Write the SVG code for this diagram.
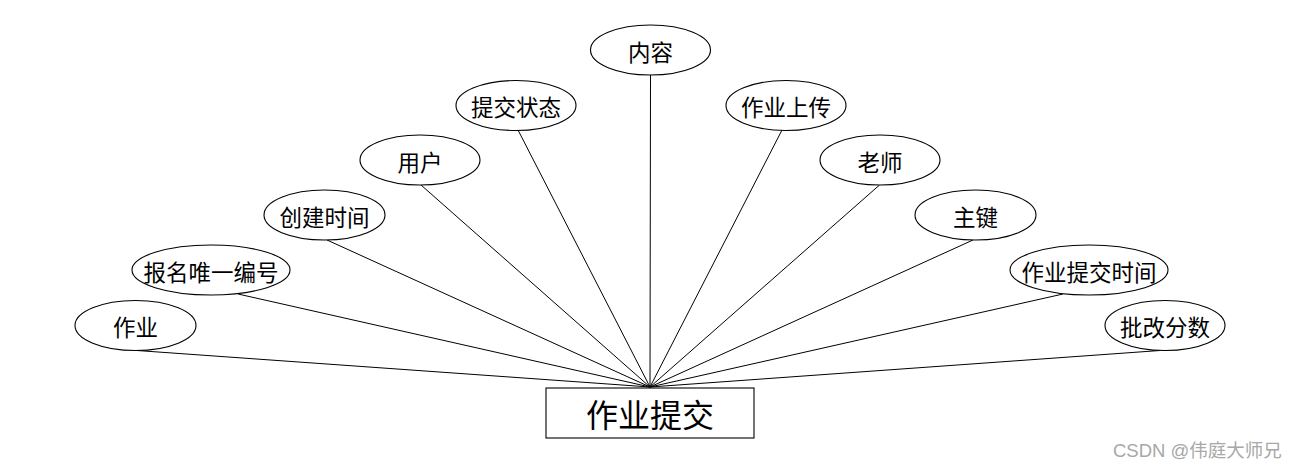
<svg xmlns="http://www.w3.org/2000/svg" width="1300" height="468" viewBox="0 0 1300 468">
<style>
.bg{fill:#ffffff}
.attr ellipse{fill:#ffffff;stroke:#000000;stroke-width:1.1}
.attr text,.ent text{font-family:"Noto Sans CJK SC","Microsoft YaHei",sans-serif;fill:#000000;text-anchor:middle;dominant-baseline:central}
.attr text{font-size:22.5px}
.ent rect{fill:#ffffff;stroke:#000000;stroke-width:1.1}
.ent text{font-size:32px}
#connectors line{stroke:#000000;stroke-width:1}
.wm{font-family:"Liberation Sans","Noto Sans CJK SC",sans-serif;font-size:18.5px;fill:#a8a8a8}
</style>
<rect class="bg" x="0" y="0" width="1300" height="468"/>
<g id="connectors">
<line x1="137" y1="350.5" x2="650" y2="387"/>
<line x1="238" y1="294" x2="650" y2="387"/>
<line x1="327" y1="240" x2="650" y2="387"/>
<line x1="421" y1="185" x2="650" y2="387"/>
<line x1="518" y1="130" x2="650" y2="387"/>
<line x1="650.5" y1="75" x2="650" y2="387"/>
<line x1="782" y1="130" x2="650" y2="387"/>
<line x1="879.5" y1="185" x2="650" y2="387"/>
<line x1="973" y1="240" x2="650" y2="387"/>
<line x1="1063" y1="294" x2="650" y2="387"/>
<line x1="1160" y1="350.5" x2="650" y2="387"/>
</g>
<g id="node-zuoye" class="attr"><ellipse cx="135.5" cy="325.5" rx="60.5" ry="25"/><text x="135.5" y="326">作业</text></g>
<g id="node-baoming" class="attr"><ellipse cx="211" cy="270" rx="79" ry="25"/><text x="211" y="270.5">报名唯一编号</text></g>
<g id="node-chuangjian" class="attr"><ellipse cx="324.5" cy="215" rx="60.5" ry="25"/><text x="324.5" y="215.5">创建时间</text></g>
<g id="node-yonghu" class="attr"><ellipse cx="420" cy="160" rx="60" ry="25"/><text x="420" y="160.5">用户</text></g>
<g id="node-tijiaozt" class="attr"><ellipse cx="516" cy="105.5" rx="60" ry="25"/><text x="516" y="106">提交状态</text></g>
<g id="node-neirong" class="attr"><ellipse cx="650.5" cy="50" rx="60" ry="25"/><text x="650.5" y="50.5">内容</text></g>
<g id="node-shangchuan" class="attr"><ellipse cx="786" cy="105.5" rx="60" ry="25"/><text x="786" y="106">作业上传</text></g>
<g id="node-laoshi" class="attr"><ellipse cx="880" cy="160" rx="60" ry="25"/><text x="880" y="160.5">老师</text></g>
<g id="node-zhujian" class="attr"><ellipse cx="975.5" cy="215" rx="60.5" ry="25"/><text x="975.5" y="215.5">主键</text></g>
<g id="node-tijiaosj" class="attr"><ellipse cx="1089" cy="270" rx="79" ry="25"/><text x="1089" y="270.5">作业提交时间</text></g>
<g id="node-pigai" class="attr"><ellipse cx="1165" cy="325.5" rx="60" ry="25"/><text x="1165" y="326">批改分数</text></g>
<g id="node-entity" class="ent"><rect x="546" y="388" width="208" height="50"/><text x="650" y="413">作业提交</text></g>
<text class="wm" x="1113" y="456.5">CSDN @伟庭大师兄</text>
</svg>
